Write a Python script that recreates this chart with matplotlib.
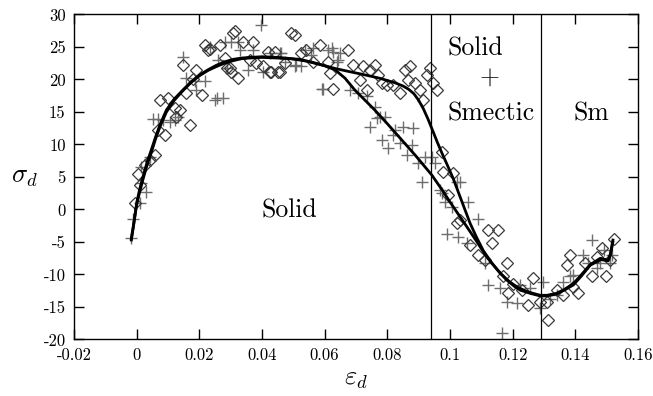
import numpy as np
import matplotlib
matplotlib.use("Agg")
import matplotlib.pyplot as plt

plt.rcParams['font.family'] = ['cmr10', 'DejaVu Serif']
plt.rcParams['mathtext.fontset'] = 'cm'
plt.rcParams['axes.unicode_minus'] = False
plt.rcParams['axes.formatter.use_mathtext'] = True

# scatter: plus markers (grey)
plus_x = [-0.0017, -0.0012, 0.001, 0.0031, 0.0015, 0.0042, 0.0015, 0.0052, 0.0068, 0.0084,
          0.0105, 0.0121, 0.0132, 0.0148, 0.0159, 0.0185, 0.0217, 0.0191, 0.0249, 0.0276,
          0.026, 0.0302, 0.0233, 0.0287, 0.0398, 0.0281, 0.0324, 0.0329, 0.0372, 0.0356,
          0.0404, 0.0425, 0.0462, 0.0473, 0.0505, 0.0255, 0.0457, 0.051, 0.0537, 0.0558,
          0.0563, 0.0611, 0.0627, 0.0595, 0.0643, 0.0526, 0.0622, 0.0649, 0.0638, 0.059,
          0.068, 0.0707, 0.0734, 0.076, 0.0776, 0.0792, 0.0744, 0.0782, 0.0803, 0.0824,
          0.0851, 0.0883, 0.0819, 0.084, 0.0862, 0.0899, 0.092, 0.0942, 0.0952, 0.091,
          0.0968, 0.1021, 0.0878, 0.0766, 0.0984, 0.1005, 0.0989, 0.1027, 0.1058, 0.109,
          0.1053, 0.1112, 0.1122, 0.116, 0.1181, 0.1213, 0.1165, 0.1032, 0.1224, 0.1256,
          0.1298, 0.1288, 0.132, 0.1341, 0.1362, 0.1383, 0.1394, 0.1426, 0.1453, 0.1442,
          0.1469, 0.149, 0.1511, 0.1479, 0.1516, 0.0973]
plus_y = [-4.4, -1.5, 0.95, 2.7, 4.0, 8.1, 6.6, 13.9, 13.9, 13.8,
          13.5, 13.8, 14.3, 23.5, 20.2, 19.7, 19.7, 18.4, 16.8, 17.1,
          23.0, 25.8, 25.0, 21.7, 28.4, 25.8, 25.8, 24.5, 24.5, 21.5,
          21.2, 24.0, 24.0, 22.7, 22.0, 17.1, 24.0, 22.2, 24.5, 23.8,
          24.8, 24.5, 24.3, 18.6, 23.0, 22.0, 24.8, 24.0, 22.7, 18.6,
          18.4, 17.9, 17.4, 15.8, 14.3, 14.3, 12.7, 10.7, 9.4, 12.2,
          12.7, 12.5, 11.5, 10.2, 8.4, 7.1, 8.1, 8.1, 7.1, 4.3,
          3.0, 4.3, 9.9, 14.0, 1.2, 0.4, -3.7, -4.2, 1.2, -1.4,
          -5.2, -8.3, -11.6, -12.1, -14.2, -14.4, -19.0, 4.3, -11.6, -12.1,
          -11.1, -15.2, -13.7, -13.2, -11.1, -10.3, -10.1, -7.0, -4.7, -8.3,
          -9.0, -6.2, -8.3, -8.3, -7.0, 2.5]

# scatter: open diamonds
diam_x = [-0.0006, 0.001, 0.0004, 0.0026, 0.0042, 0.0058, 0.0068, 0.0089, 0.0073, 0.01,
          0.0121, 0.0137, 0.0127, 0.0169, 0.0159, 0.0148, 0.0191, 0.0207, 0.0217, 0.0228,
          0.0265, 0.0281, 0.0297, 0.0308, 0.018, 0.0313, 0.034, 0.0372, 0.0233, 0.0287,
          0.0302, 0.0324, 0.0382, 0.0404, 0.0451, 0.043, 0.0473, 0.0494, 0.0505, 0.0361,
          0.0425, 0.0457, 0.042, 0.0441, 0.0526, 0.0585, 0.0611, 0.0617, 0.0627, 0.0563,
          0.0542, 0.0675, 0.0691, 0.0712, 0.0723, 0.0744, 0.076, 0.0771, 0.0734, 0.0782,
          0.0798, 0.0819, 0.084, 0.0856, 0.0872, 0.0867, 0.0888, 0.0904, 0.0915, 0.0926,
          0.0936, 0.0947, 0.0958, 0.0973, 0.0979, 0.101, 0.0995, 0.1021, 0.1032, 0.1064,
          0.109, 0.1122, 0.1154, 0.1133, 0.1112, 0.1181, 0.117, 0.1202, 0.1229, 0.125,
          0.1264, 0.1288, 0.1309, 0.1314, 0.1341, 0.1362, 0.1373, 0.1383, 0.1394, 0.141,
          0.1453, 0.1469, 0.1485, 0.1498, 0.1511, 0.1524, 0.1431, 0.1186]
diam_y = [1.0, 3.8, 5.5, 6.8, 7.6, 8.4, 12.2, 11.5, 16.8, 17.1,
          15.6, 15.3, 14.3, 13.0, 17.9, 22.2, 21.5, 17.6, 25.3, 24.5,
          25.3, 23.3, 21.7, 27.1, 20.0, 27.4, 25.8, 25.8, 24.7, 21.7,
          21.2, 20.2, 22.5, 22.0, 21.2, 21.2, 22.5, 27.1, 26.8, 23.0,
          21.2, 21.2, 24.3, 24.3, 24.0, 25.3, 22.7, 21.0, 18.6, 22.7,
          24.5, 24.6, 22.2, 19.9, 22.0, 21.5, 22.2, 20.7, 18.4, 19.4,
          19.2, 19.2, 17.9, 21.5, 22.0, 19.9, 19.4, 18.4, 16.8, 20.7,
          21.7, 19.4, 18.4, 8.9, 5.8, 5.6, 2.2, -2.1, -1.6, -5.5,
          -7.0, -3.2, -3.2, -5.2, -7.8, -8.3, -10.3, -11.4, -12.4, -14.7,
          -10.6, -14.2, -14.2, -17.0, -12.4, -13.2, -8.5, -7.0, -11.9, -12.9,
          -10.3, -7.3, -6.0, -10.3, -7.8, -4.6, -8.3, -12.8]

# fitted curves
fit1_x = [-0.0017, -0.001, 0.0, 0.001, 0.002, 0.0033, 0.0047, 0.006, 0.0075, 0.0095,
          0.012, 0.0148, 0.0175, 0.0201, 0.0228, 0.0255, 0.028, 0.0308, 0.0335, 0.0361,
          0.04, 0.045, 0.052, 0.058, 0.0633, 0.068, 0.072, 0.0775, 0.0824, 0.085,
          0.0868, 0.0885, 0.09, 0.0915, 0.093, 0.0945, 0.096, 0.0975, 0.099, 0.101,
          0.1035, 0.1064, 0.1085, 0.1106, 0.1133, 0.116, 0.1187, 0.1213, 0.1245, 0.1265,
          0.1288, 0.131, 0.134, 0.1365, 0.1394, 0.142, 0.1447, 0.148, 0.1505, 0.1512,
          0.152]
fit1_y = [-4.7, -2.5, 1.0, 3.2, 5.0, 7.2, 9.2, 11.1, 13.1, 15.3,
          17.0, 18.4, 19.7, 20.7, 21.5, 22.2, 22.7, 23.1, 23.3, 23.4,
          23.5, 23.4, 23.1, 22.4, 21.7, 21.2, 20.8, 20.2, 19.5, 19.0,
          18.5, 17.8, 16.8, 15.5, 13.9, 12.1, 10.3, 8.6, 7.0, 4.8,
          1.6, -2.1, -4.3, -6.3, -8.2, -9.8, -11.0, -11.9, -12.6, -12.9,
          -13.2, -13.2, -12.9, -12.3, -11.4, -10.0, -8.5, -7.5, -7.8, -6.8,
          -4.7]

fit2_x = [-0.0017, -0.001, 0.0, 0.001, 0.002, 0.0033, 0.0047, 0.006, 0.0075, 0.0095,
          0.012, 0.0148, 0.0175, 0.0201, 0.0228, 0.0255, 0.028, 0.0308, 0.0335, 0.0361,
          0.04, 0.045, 0.049, 0.052, 0.0545, 0.057, 0.06, 0.0633, 0.0665, 0.0696,
          0.076, 0.08, 0.0846, 0.089, 0.0942, 0.0975, 0.1005, 0.1053, 0.1085, 0.1117,
          0.115, 0.118, 0.1205, 0.1224, 0.1256, 0.1288, 0.131, 0.134, 0.1365, 0.1394,
          0.142, 0.1447, 0.148, 0.1505, 0.1512, 0.152]
fit2_y = [-4.5, -2.4, 0.7, 2.8, 4.6, 6.8, 8.8, 10.8, 12.8, 15.0,
          16.8, 18.3, 19.6, 20.6, 21.4, 22.0, 22.5, 22.9, 23.2, 23.3,
          23.4, 23.3, 23.2, 23.0, 22.8, 22.5, 22.1, 21.5, 20.2, 18.4,
          15.3, 13.2, 10.7, 8.3, 5.3, 3.0, 0.8, -2.6, -4.9, -7.3,
          -9.2, -10.8, -11.8, -12.4, -12.9, -13.3, -13.3, -13.0, -12.4, -11.6,
          -10.2, -8.6, -7.7, -7.9, -7.0, -5.0]

boundaries = [0.094, 0.129]

xticks = [-0.02, 0, 0.02, 0.04, 0.06, 0.08, 0.1, 0.12, 0.14, 0.16]
xtick_labels = ['-0.02', '0', '0.02', '0.04', '0.06', '0.08', '0.1', '0.12', '0.14', '0.16']
yticks = [-20, -15, -10, -5, 0, 5, 10, 15, 20, 25, 30]
ytick_labels = ['-20', '-15', '-10', '-5', '0', '5', '10', '15', '20', '25', '30']

fig = plt.figure(figsize=(6.53, 3.96), dpi=100)
ax = fig.add_axes([0.1133, 0.1427, 0.8637, 0.8207])

ax.plot(plus_x, plus_y, linestyle='none', marker='+', ms=8, mew=1.0, color='#6e6e6e')
ax.plot(diam_x, diam_y, linestyle='none', marker='D', ms=6.5, mew=0.9,
        markerfacecolor='none', markeredgecolor='#3a3a3a')
ax.plot(fit1_x, fit1_y, color='black', lw=2.0)
ax.plot(fit2_x, fit2_y, color='black', lw=2.0)
for b in boundaries:
    ax.axvline(b, color='black', lw=0.9)

ax.set_xlim(-0.02, 0.16)
ax.set_ylim(-20, 30)
ax.set_xticks(xticks)
ax.set_xticklabels(xtick_labels)
ax.set_yticks(yticks)
ax.set_yticklabels(ytick_labels)
ax.tick_params(direction='in', length=7, width=1, top=True, right=True, labelsize=12, pad=6)
for s in ax.spines.values():
    s.set_linewidth(1.0)

ax.set_xlabel(r'$\varepsilon_d$', fontsize=19, labelpad=3)
ax.set_ylabel(r'$\sigma_d$', fontsize=19, rotation=0, labelpad=14, va='center')

ax.text(0.108, 24.8, 'Solid', fontsize=18.5, ha='center', va='center')
ax.text(0.1125, 20.2, '+', fontsize=18.5, ha='center', va='center')
ax.text(0.113, 14.8, 'Smectic', fontsize=18.5, ha='center', va='center')
ax.text(0.145, 14.8, 'Sm', fontsize=18.5, ha='center', va='center')
ax.text(0.0486, -0.1, 'Solid', fontsize=18.5, ha='center', va='center')

fig.savefig('out.png', dpi=100)
